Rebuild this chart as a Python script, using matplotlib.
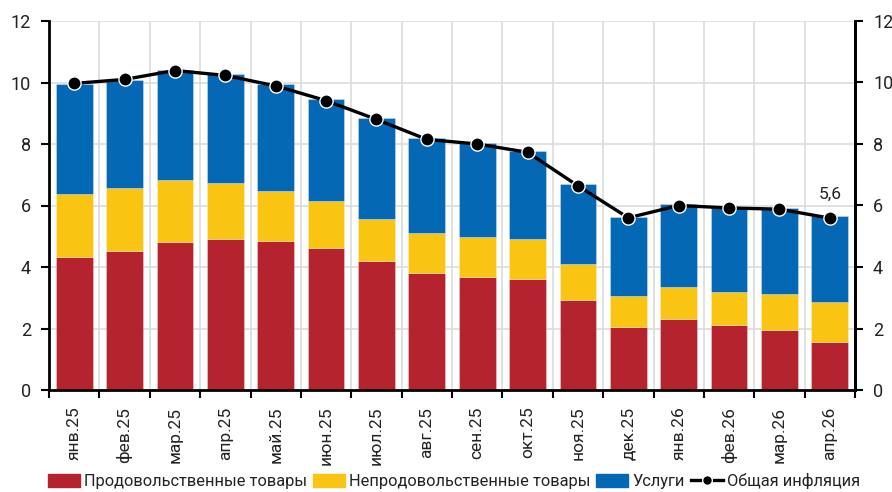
import matplotlib
matplotlib.use("Agg")
import matplotlib.pyplot as plt
import numpy as np
from matplotlib.lines import Line2D
from matplotlib.patches import Patch

plt.rcParams['font.family'] = ['Roboto', 'DejaVu Sans']

categories = ["янв.25", "фев.25", "мар.25", "апр.25", "май.25", "июн.25", "июл.25", "авг.25",
              "сен.25", "окт.25", "ноя.25", "дек.25", "янв.26", "фев.26", "мар.26", "апр.26"]
food = [4.33, 4.53, 4.82, 4.92, 4.85, 4.62, 4.2, 3.8, 3.67, 3.6, 2.92, 2.04, 2.3, 2.1, 1.94, 1.57]
nonfood_cum = [6.36, 6.58, 6.82, 6.74, 6.47, 6.14, 5.56, 5.1, 4.97, 4.9, 4.1, 3.05, 3.35, 3.19, 3.11, 2.85]
total_bar = [9.95, 10.09, 10.4, 10.28, 9.95, 9.46, 8.83, 8.2, 8.04, 7.77, 6.69, 5.64, 6.06, 5.95, 5.93, 5.65]
inflation = [9.97, 10.1, 10.39, 10.23, 9.89, 9.41, 8.8, 8.15, 8.0, 7.73, 6.64, 5.6, 6.0, 5.92, 5.88, 5.59]

nonfood = [n - f for n, f in zip(nonfood_cum, food)]
services = [t - n for t, n in zip(total_bar, nonfood_cum)]

c_food = "#B5232E"
c_nonfood = "#F9C412"
c_serv = "#0468B4"
txt = "#222222"

fig = plt.figure(figsize=(8.92, 4.92), dpi=100)
ax = fig.add_axes([49/892, 1 - 390/492, 806/892, 369/492])

x = np.arange(len(categories))
w = 0.73
ec = dict(edgecolor=(1, 1, 1, 0.35), linewidth=0.6)
ax.bar(x, food, w, color=c_food, zorder=2, **ec)
ax.bar(x, nonfood, w, bottom=food, color=c_nonfood, zorder=2, **ec)
ax.bar(x, services, w, bottom=nonfood_cum, color=c_serv, zorder=2, **ec)
ax.plot(x, inflation, color="black", lw=2.4, marker="o", ms=9.5,
        markerfacecolor="black", markeredgecolor="white", markeredgewidth=1.0, zorder=4)
ax.annotate("5,6", (x[-1], inflation[-1]), xytext=(0, 12), textcoords="offset points",
            ha="center", va="bottom", fontsize=12.5, color=txt)

ax.set_xlim(-0.5, len(categories) - 0.5)
ax.set_ylim(0, 12)
ax.set_yticks(range(0, 13, 2))
ax.set_xticks(x)
ax.set_xticklabels(categories, rotation=90, fontsize=12.5, color=txt)
ax.set_xticks(np.arange(-0.5, len(categories), 1.0), minor=True)
ax.tick_params(axis="x", which="major", length=0, pad=12)
ax.tick_params(axis="x", which="minor", length=6, width=1.5, direction="out")
ax.tick_params(axis="y", length=6, width=1.5, labelsize=13, labelcolor=txt, pad=7)
ax.grid(True, which="minor", axis="x", color="#dcdcdc", lw=1.2, zorder=0)
ax.grid(True, which="major", axis="y", color="#dcdcdc", lw=1.2, zorder=0)
ax.set_axisbelow(True)

for s in ["left", "right", "bottom"]:
    ax.spines[s].set_linewidth(2)
    ax.spines[s].set_color("black")
ax.spines["top"].set_visible(False)

ax2 = ax.twinx()
ax2.set_ylim(0, 12)
ax2.set_yticks(range(0, 13, 2))
ax2.tick_params(axis="y", length=6, width=1.5, labelsize=13, labelcolor=txt, pad=7)
for s in ["top", "left", "bottom"]:
    ax2.spines[s].set_visible(False)
ax2.spines["right"].set_linewidth(2)

handles = [Patch(color=c_food), Patch(color=c_nonfood), Patch(color=c_serv),
           Line2D([0], [0], color="black", lw=2.4, marker="o", ms=7, markeredgecolor="white")]
labels = ["Продовольственные товары", "Непродовольственные товары", "Услуги", "Общая инфляция"]
fig.legend(handles, labels, loc="center", bbox_to_anchor=(454/892, 1 - 481/492), ncol=4,
           frameon=False, fontsize=11.8, handlelength=1.95, handleheight=0.8,
           handletextpad=0.25, columnspacing=0.35, labelcolor=txt, borderpad=0)

fig.savefig("out.png", dpi=100)
